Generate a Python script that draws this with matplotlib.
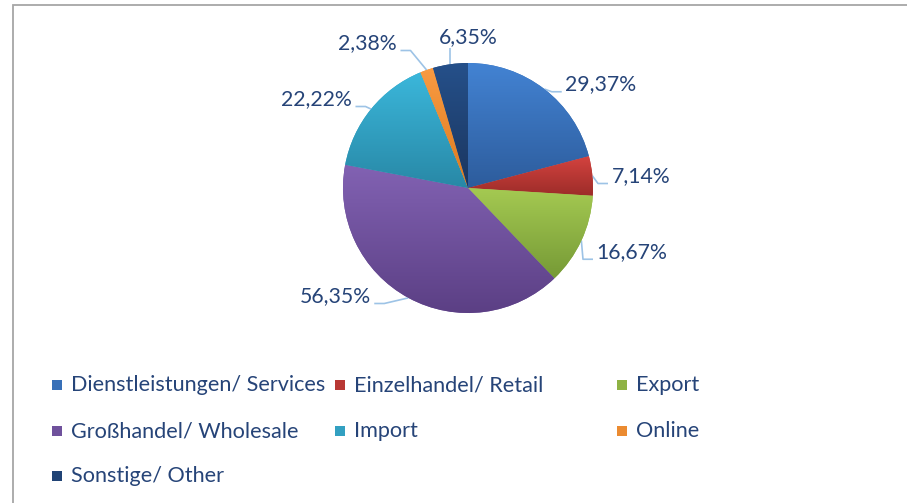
import matplotlib.pyplot as plt
import numpy as np
from matplotlib.patches import Rectangle
from matplotlib.colors import to_rgb

categories = ['Dienstleistungen/ Services', 'Einzelhandel/ Retail', 'Export',
              'Großhandel/ Wholesale', 'Import', 'Online', 'Sonstige/ Other']
values = [29.37, 7.14, 16.67, 56.35, 22.22, 2.38, 6.35]
value_labels = ['29,37%', '7,14%', '16,67%', '56,35%', '22,22%', '2,38%', '6,35%']

# gradient colours: top (light) -> bottom (dark)
light = ['#4383d3', '#d4433f', '#a5ca52', '#8262b3', '#3bb7db', '#f99b42', '#25508a']
dark = ['#2d5c9c', '#9c2c29', '#769a36', '#5b3f84', '#2888a6', '#dc7a1f', '#1b365f']

# label placement in pie-radius units
label_pos = [(0.78, 0.83, 'left'), (1.15, 0.096, 'left'), (1.03, -0.51, 'left'),
             (-0.78, -0.864, 'right'), (-0.93, 0.712, 'right'),
             (-0.57, 1.16, 'right'), (0.0, 1.21, 'center')]

W, H = 907, 503
CX, CY, R = 468, 188, 125
font = 'Lato'
txt_col = '#264478'

fig = plt.figure(figsize=(W / 100, H / 100), dpi=100)
ax = fig.add_axes([0, 0, 1, 1])

wedges, _ = ax.pie(values, startangle=90, counterclock=False, radius=1,
                   wedgeprops=dict(linewidth=0))

for w, c1, c2 in zip(wedges, light, dark):
    w.set_facecolor(np.mean([to_rgb(c1), to_rgb(c2)], axis=0))
    v = w.get_path().vertices
    x0, x1 = v[:, 0].min(), v[:, 0].max()
    y0, y1 = v[:, 1].min(), v[:, 1].max()
    t = np.linspace(0, 1, 256)[:, None]
    rgb = (1 - t) * np.array(to_rgb(c1)) + t * np.array(to_rgb(c2))
    img = np.repeat(rgb[:, None, :], 2, axis=1)
    im = ax.imshow(img, extent=(x0, x1, y0, y1), origin='upper', aspect='auto', zorder=2)
    im.set_clip_path(w)

# data labels with leader lines
for w, lbl, (tx, ty, ha) in zip(wedges, value_labels, label_pos):
    ang = np.deg2rad((w.theta1 + w.theta2) / 2)
    ex, ey = np.cos(ang), np.sin(ang)
    if ha == 'center':
        pts = [(ex, ey), (ex, ty - 0.09)]
    else:
        s = 1 if ha == 'left' else -1
        ly = ty - 0.06
        end = tx - s * 0.03
        elbow = end - s * 0.08
        pts = [(ex, ey), (elbow, ly), (end, ly)]
    xs, ys = zip(*pts)
    ax.plot(xs, ys, color='#9dc3e6', lw=1.2, zorder=1, solid_capstyle='butt')
    ax.text(tx, ty, lbl, ha=ha, va='center', fontsize=15.3, color=txt_col, family=font)

ax.set_xlim(-CX / R, (W - CX) / R)
ax.set_ylim((CY - H) / R, CY / R)
ax.set_aspect('equal', adjustable='datalim')
ax.axis('off')

# legend laid out in a 3-column grid like the original
col_x = [57, 340, 622]
row_y = [385, 431, 476]
for i, (cat, c1, c2) in enumerate(zip(categories, light, dark)):
    r, c = divmod(i, 3)
    px, py = col_x[c], row_y[r]
    fig.add_artist(Rectangle(((px - 5) / W, 1 - (py + 5) / H), 10 / W, 10 / H,
                             transform=fig.transFigure, lw=0,
                             facecolor=np.mean([to_rgb(c1), to_rgb(c2)], axis=0)))
    fig.text((px + 14) / W, 1 - py / H, cat, ha='left', va='center',
             fontsize=15.6, color=txt_col, family=font)

# chart area border (partly cut off)
fig.add_artist(Rectangle((13 / W, -0.1), 1.2, 1.1 - 5 / H, transform=fig.transFigure,
                         fill=False, edgecolor='#a6a6a6', lw=1.3))

fig.savefig('out.png', dpi=100)
